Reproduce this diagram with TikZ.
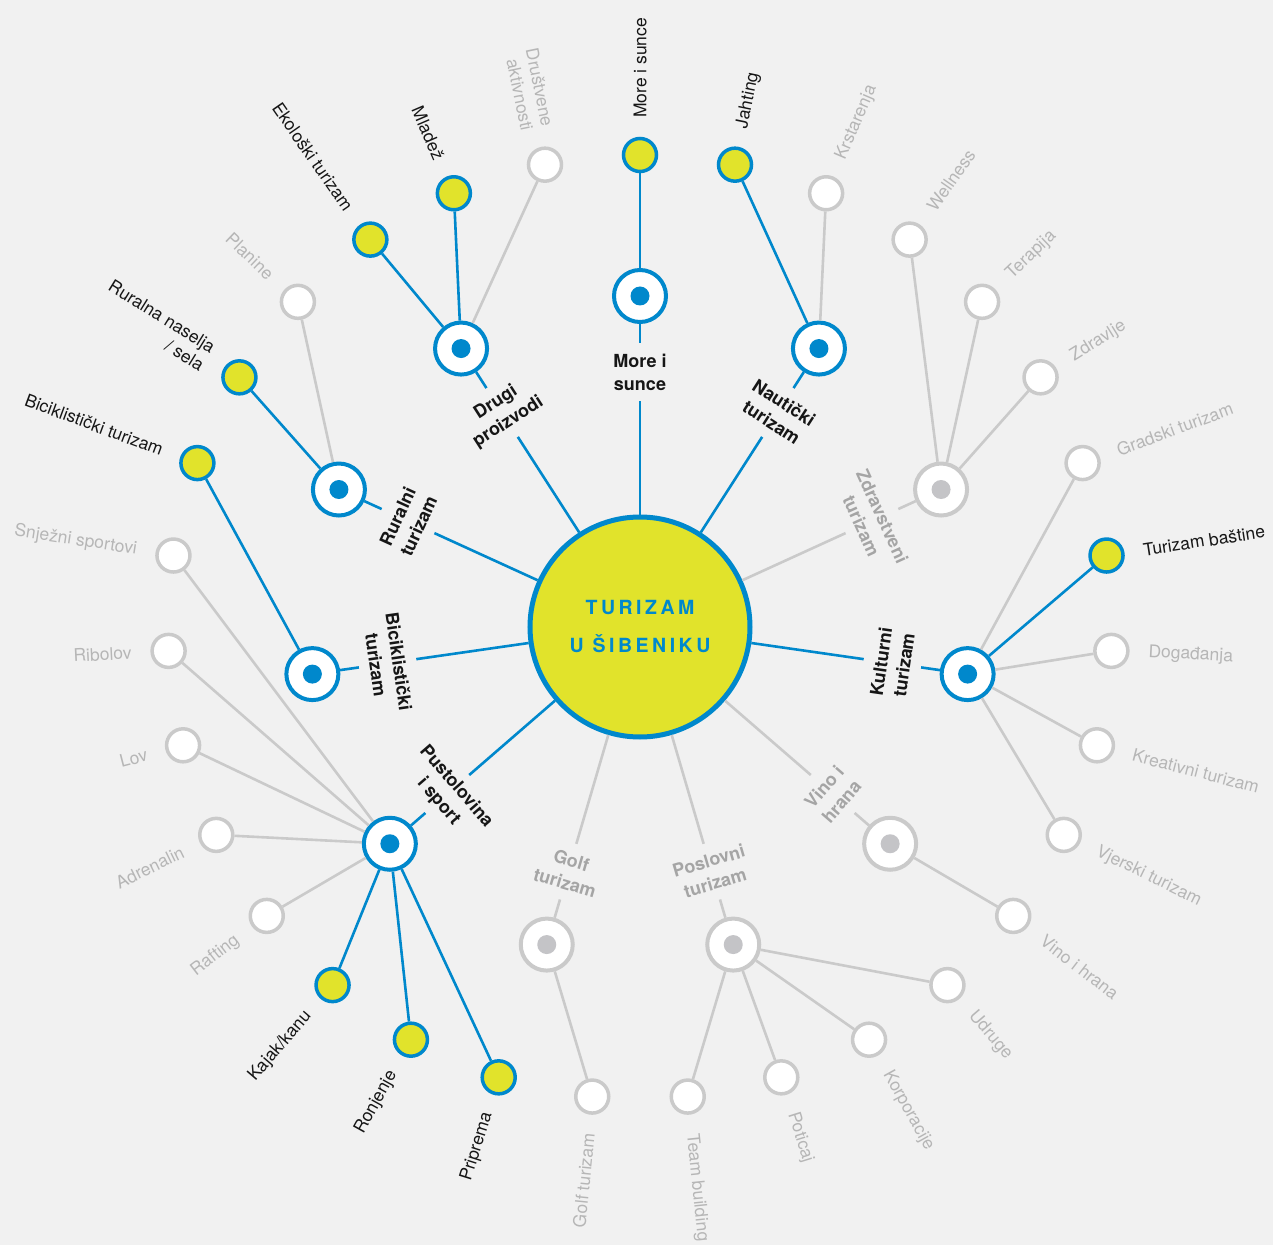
\documentclass[tikz,border=0pt]{standalone}
\usepackage{fontspec}
\setmainfont{TeX Gyre Heros}
\definecolor{tzblue}{RGB}{0,136,204}
\definecolor{tzyellow}{RGB}{225,227,43}
\definecolor{tzgrey}{RGB}{202,202,202}
\definecolor{tzdot}{RGB}{196,196,199}
\definecolor{tzgreytext}{RGB}{182,182,182}
\definecolor{tzcattext}{RGB}{165,165,165}
\definecolor{tzbg}{RGB}{241,241,241}
\definecolor{tzdark}{RGB}{22,22,22}

\tikzset{
  hubon/.style={circle, draw=tzblue, fill=white, line width=4pt, minimum size=52pt, inner sep=0pt,
    path picture={\fill[tzblue] (path picture bounding box.center) circle (9.5pt);}},
  huboff/.style={circle, draw=tzgrey, fill=white, line width=4pt, minimum size=52pt, inner sep=0pt,
    path picture={\fill[tzdot] (path picture bounding box.center) circle (9.5pt);}},
  leafon/.style={circle, draw=tzblue, fill=tzyellow, line width=3.5pt, minimum size=33pt, inner sep=0pt},
  leafoff/.style={circle, draw=tzgrey, fill=white, line width=3.5pt, minimum size=33pt, inner sep=0pt},
  linkon/.style={draw=tzblue, line width=2.6pt},
  linkoff/.style={draw=tzgrey, line width=2.6pt},
  caton/.style={font=\bfseries\fontsize{18}{23}\selectfont, text=tzdark, align=center, inner sep=0pt},
  catoff/.style={caton, text=tzcattext},
  tagon/.style={font=\fontsize{17.5}{21}\selectfont, text=tzdark, inner sep=0pt},
  tagoff/.style={tagon, text=tzgreytext},
  tagR/.style={anchor=west, rotate=#1},
  tagL/.style={anchor=east, rotate=#1, align=right},
}

\begin{document}
\begin{tikzpicture}[x=1pt, y=1pt]
\fill[tzbg] (-640,-618) rectangle (633,627);
\useasboundingbox (-640,-618) rectangle (633,627);

% central circle
\node[circle, draw=tzblue, fill=tzyellow, line width=5pt, minimum size=220pt, inner sep=0pt,
      text=tzblue, font=\bfseries\fontsize{19.5}{38}\selectfont\addfontfeature{LetterSpace=18},
      align=center] (C) at (0,0) {TURIZAM\\U ŠIBENIKU};

% category hubs
\node[hubon]  (h0)  at (90:331) {};
\node[hubon]  (h1)  at (57.273:331) {};
\node[huboff] (h2)  at (24.545:331) {};
\node[hubon]  (h3)  at (-8.182:331) {};
\node[huboff] (h4)  at (-40.909:331) {};
\node[huboff] (h5)  at (-73.636:331) {};
\node[huboff] (h6)  at (-106.364:331) {};
\node[hubon]  (h7)  at (-139.091:331) {};
\node[hubon]  (h8)  at (-171.818:331) {};
\node[hubon]  (h9)  at (155.455:331) {};
\node[hubon]  (h10) at (122.727:331) {};

% category labels
\node[caton,  rotate=0]       (c0)  at (90:255) {More i\\sunce};
\node[caton,  rotate=-32.727] (c1)  at (57.273:255) {Nautički\\turizam};
\node[catoff, rotate=-65.455] (c2)  at (24.545:255) {Zdravstveni\\turizam};
\node[caton,  rotate=81.818]  (c3)  at (-8.182:255) {Kulturni\\turizam};
\node[catoff, rotate=49.091]  (c4)  at (-40.909:255) {Vino i\\hrana};
\node[catoff, rotate=16.364]  (c5)  at (-73.636:255) {Poslovni\\turizam};
\node[catoff, rotate=-16.364] (c6)  at (-106.364:255) {Golf\\turizam};
\node[caton,  rotate=-49.091] (c7)  at (-139.091:255) {Pustolovina\\i sport};
\node[caton,  rotate=-81.818] (c8)  at (-171.818:255) {Biciklistički\\turizam};
\node[caton,  rotate=65.455]  (c9)  at (155.455:255) {Ruralni\\turizam};
\node[caton,  rotate=32.727]  (c10) at (122.727:255) {Drugi\\proizvodi};

% spoke ends either side of each category label
\foreach \i/\a in {0/90, 1/57.273, 2/24.545, 3/-8.182, 4/-40.909, 5/-73.636,
                   6/-106.364, 7/-139.091, 8/-171.818, 9/155.455, 10/122.727} {
  \coordinate (s\i a) at (\a:226);
  \coordinate (s\i b) at (\a:284);
}

% leaves
\node[leafon]  (l0)  at (90:472) {};
\node[leafon]  (l1)  at (78.387:472) {};
\node[leafoff] (l2)  at (66.774:472) {};
\node[leafoff] (l3)  at (55.161:472) {};
\node[leafoff] (l4)  at (43.548:472) {};
\node[leafoff] (l5)  at (31.935:472) {};
\node[leafoff] (l6)  at (20.323:472) {};
\node[leafon]  (l7)  at (8.710:472) {};
\node[leafoff] (l8)  at (-2.903:472) {};
\node[leafoff] (l9)  at (-14.516:472) {};
\node[leafoff] (l10) at (-26.129:472) {};
\node[leafoff] (l11) at (-37.742:472) {};
\node[leafoff] (l12) at (-49.355:472) {};
\node[leafoff] (l13) at (-60.968:472) {};
\node[leafoff] (l14) at (-72.581:472) {};
\node[leafoff] (l15) at (-84.194:472) {};
\node[leafoff] (l16) at (-95.806:472) {};
\node[leafon]  (l17) at (-107.419:472) {};
\node[leafon]  (l18) at (-119.032:472) {};
\node[leafon]  (l19) at (-130.645:472) {};
\node[leafoff] (l20) at (-142.258:472) {};
\node[leafoff] (l21) at (-153.871:472) {};
\node[leafoff] (l22) at (-165.484:472) {};
\node[leafoff] (l23) at (-177.097:472) {};
\node[leafoff] (l24) at (171.290:472) {};
\node[leafon]  (l25) at (159.677:472) {};
\node[leafon]  (l26) at (148.065:472) {};
\node[leafoff] (l27) at (136.452:472) {};
\node[leafon]  (l28) at (124.839:472) {};
\node[leafon]  (l29) at (113.226:472) {};
\node[leafoff] (l30) at (101.613:472) {};

% leaf labels
\node[tagon,  tagR=90]      (t0)  at (90:509) {More i sunce};
\node[tagon,  tagR=78.387]  (t1)  at (78.387:509) {Jahting};
\node[tagoff, tagR=66.774]  (t2)  at (66.774:509) {Krstarenja};
\node[tagoff, tagR=55.161]  (t3)  at (55.161:509) {Wellness};
\node[tagoff, tagR=43.548]  (t4)  at (43.548:509) {Terapija};
\node[tagoff, tagR=31.935]  (t5)  at (31.935:509) {Zdravlje};
\node[tagoff, tagR=20.323]  (t6)  at (20.323:509) {Gradski turizam};
\node[tagon,  tagR=8.710]   (t7)  at (8.710:509) {Turizam baštine};
\node[tagoff, tagR=-2.903]  (t8)  at (-2.903:509) {Događanja};
\node[tagoff, tagR=-14.516] (t9)  at (-14.516:509) {Kreativni turizam};
\node[tagoff, tagR=-26.129] (t10) at (-26.129:509) {Vjerski turizam};
\node[tagoff, tagR=-37.742] (t11) at (-37.742:509) {Vino i hrana};
\node[tagoff, tagR=-49.355] (t12) at (-49.355:509) {Udruge};
\node[tagoff, tagR=-60.968] (t13) at (-60.968:509) {Korporacije};
\node[tagoff, tagR=-72.581] (t14) at (-72.581:509) {Poticaj};
\node[tagoff, tagR=-84.194] (t15) at (-84.194:509) {Team building};
\node[tagoff, tagL=84.194]  (t16) at (-95.806:509) {Golf turizam};
\node[tagon,  tagL=72.581]  (t17) at (-107.419:509) {Priprema};
\node[tagon,  tagL=60.968]  (t18) at (-119.032:509) {Ronjenje};
\node[tagon,  tagL=49.355]  (t19) at (-130.645:509) {Kajak/kanu};
\node[tagoff, tagL=37.742]  (t20) at (-142.258:509) {Rafting};
\node[tagoff, tagL=26.129]  (t21) at (-153.871:509) {Adrenalin};
\node[tagoff, tagL=14.516]  (t22) at (-165.484:509) {Lov};
\node[tagoff, tagL=2.903]   (t23) at (-177.097:509) {Ribolov};
\node[tagoff, tagL=-8.710]  (t24) at (171.290:509) {Snježni sportovi};
\node[tagon,  tagL=-20.323] (t25) at (159.677:509) {Biciklistički turizam};
\node[tagon,  tagL=-31.935] (t26) at (148.065:509) {Ruralna naselja\\/ sela};
\node[tagoff, tagL=-43.548] (t27) at (136.452:509) {Planine};
\node[tagon,  tagL=-55.161] (t28) at (124.839:509) {Ekološki turizam};
\node[tagon,  tagL=-66.774] (t29) at (113.226:509) {Mladež};
\node[tagoff, tagL=-78.387] (t30) at (101.613:509) {Društvene\\aktivnosti};

% spokes from the centre to the hubs
\foreach \i in {0,1,3,7,8,9,10} {
  \draw[linkon] (C) -- (s\i a);
  \draw[linkon] (s\i b) -- (h\i);
}
\foreach \i in {2,4,5,6} {
  \draw[linkoff] (C) -- (s\i a);
  \draw[linkoff] (s\i b) -- (h\i);
}

% hub to leaf links
\draw[linkon]  (h0) -- (l0);
\draw[linkon]  (h1) -- (l1);
\draw[linkoff] (h1) -- (l2);
\draw[linkoff] (h2) -- (l3);
\draw[linkoff] (h2) -- (l4);
\draw[linkoff] (h2) -- (l5);
\draw[linkoff] (h3) -- (l6);
\draw[linkon]  (h3) -- (l7);
\draw[linkoff] (h3) -- (l8);
\draw[linkoff] (h3) -- (l9);
\draw[linkoff] (h3) -- (l10);
\draw[linkoff] (h4) -- (l11);
\draw[linkoff] (h5) -- (l12);
\draw[linkoff] (h5) -- (l13);
\draw[linkoff] (h5) -- (l14);
\draw[linkoff] (h5) -- (l15);
\draw[linkoff] (h6) -- (l16);
\draw[linkon]  (h7) -- (l17);
\draw[linkon]  (h7) -- (l18);
\draw[linkon]  (h7) -- (l19);
\draw[linkoff] (h7) -- (l20);
\draw[linkoff] (h7) -- (l21);
\draw[linkoff] (h7) -- (l22);
\draw[linkoff] (h7) -- (l23);
\draw[linkoff] (h7) -- (l24);
\draw[linkon]  (h8) -- (l25);
\draw[linkon]  (h9) -- (l26);
\draw[linkoff] (h9) -- (l27);
\draw[linkon]  (h10) -- (l28);
\draw[linkon]  (h10) -- (l29);
\draw[linkoff] (h10) -- (l30);
\end{tikzpicture}
\end{document}
